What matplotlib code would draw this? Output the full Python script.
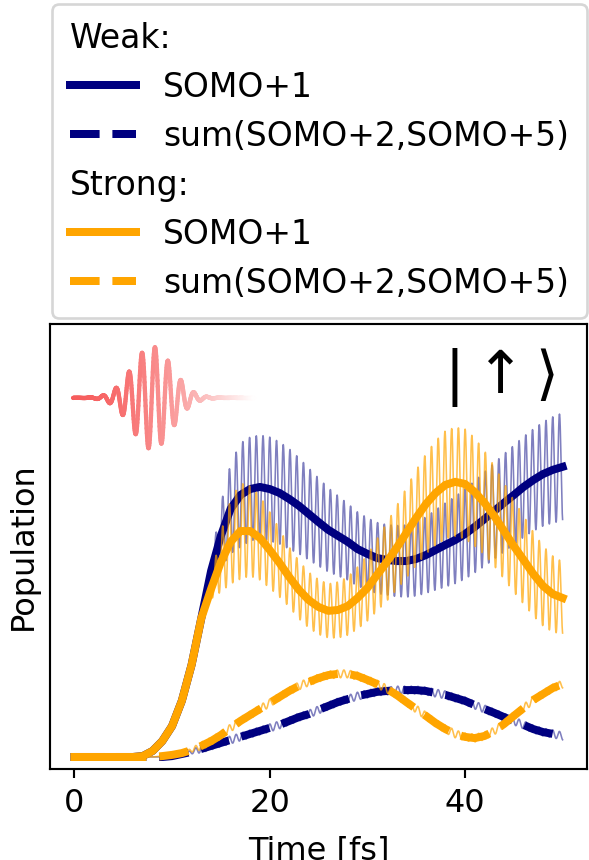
import numpy as np
import matplotlib
matplotlib.use("Agg")
import matplotlib.pyplot as plt
from matplotlib.collections import LineCollection
from matplotlib.legend_handler import HandlerBase
from matplotlib.text import Text

# ---------------------------------------------------------------- data
# sampling times of the cycle-averaged populations [fs]
time_fs = list(range(0, 51))

# cycle-averaged populations (arbitrary units)
weak_somo1 = [0, 0, 0, 0, 0, 0, 0, 0.0003, 0.0020, 0.0053, 0.0103, 0.0187,
              0.0307, 0.0463, 0.0620, 0.0737, 0.0827, 0.0873, 0.0893, 0.0900,
              0.0893, 0.0880, 0.0860, 0.0837, 0.0810, 0.0783, 0.0757, 0.0737,
              0.0717, 0.0693, 0.0677, 0.0663, 0.0657, 0.0653, 0.0653, 0.0660,
              0.0673, 0.0690, 0.0707, 0.0723, 0.0743, 0.0767, 0.0793, 0.0820,
              0.0847, 0.0873, 0.0900, 0.0923, 0.0943, 0.0957, 0.0967]
weak_sum25 = [0, 0, 0, 0, 0, 0, 0, 0, 0, 0, 0.0003, 0.0010, 0.0017, 0.0027,
              0.0037, 0.0047, 0.0057, 0.0067, 0.0077, 0.0087, 0.0097, 0.0107,
              0.0120, 0.0133, 0.0143, 0.0157, 0.0170, 0.0183, 0.0193, 0.0203,
              0.0210, 0.0217, 0.0220, 0.0223, 0.0223, 0.0223, 0.0220, 0.0213,
              0.0207, 0.0197, 0.0187, 0.0173, 0.0160, 0.0147, 0.0133, 0.0120,
              0.0107, 0.0093, 0.0083, 0.0077, 0.0070]
strong_somo1 = [0, 0, 0, 0, 0, 0, 0, 0.0003, 0.0020, 0.0053, 0.0103, 0.0187,
                0.0307, 0.0463, 0.0560, 0.0650, 0.0717, 0.0753, 0.0753, 0.0730,
                0.0690, 0.0647, 0.0600, 0.0557, 0.0523, 0.0500, 0.0487, 0.0490,
                0.0503, 0.0530, 0.0563, 0.0607, 0.0650, 0.0697, 0.0747, 0.0797,
                0.0843, 0.0880, 0.0907, 0.0917, 0.0910, 0.0883, 0.0847, 0.0803,
                0.0753, 0.0703, 0.0657, 0.0610, 0.0570, 0.0543, 0.0530]
strong_sum25 = [0, 0, 0, 0, 0, 0, 0, 0, 0, 0.0003, 0.0007, 0.0013, 0.0023,
                0.0037, 0.0053, 0.0073, 0.0097, 0.0120, 0.0140, 0.0160, 0.0180,
                0.0200, 0.0220, 0.0237, 0.0250, 0.0263, 0.0273, 0.0277, 0.0277,
                0.0270, 0.0257, 0.0243, 0.0227, 0.0207, 0.0183, 0.0160, 0.0137,
                0.0113, 0.0093, 0.0077, 0.0067, 0.0063, 0.0070, 0.0087, 0.0110,
                0.0137, 0.0163, 0.0190, 0.0210, 0.0230, 0.0243]

# amplitude of the fast field-driven oscillation around the averages
env_time = [0, 13, 14, 15, 16, 17, 19, 20, 22, 24, 26, 28, 30, 32, 34, 36,
            38, 40, 41, 42, 44, 47, 50]
weak_env = [0, 0, 0.0033, 0.0107, 0.0150, 0.0173, 0.0173, 0.0173, 0.0167,
            0.0153, 0.0140, 0.0127, 0.0120, 0.0117, 0.0120, 0.0127, 0.0140,
            0.0150, 0.0153, 0.0157, 0.0163, 0.0170, 0.0180]
strong_env = [0, 0, 0.0033, 0.0100, 0.0140, 0.0160, 0.0140, 0.0127, 0.0100,
              0.0093, 0.0090, 0.0097, 0.0110, 0.0130, 0.0150, 0.0167, 0.0180,
              0.0183, 0.0180, 0.0173, 0.0160, 0.0140, 0.0120]
sum_env_time = [0, 11, 13, 50]
sum_env = [0, 0, 0.0013, 0.0013]
osc_period_fs = 0.69

legend_labels = ["SOMO+1", "sum(SOMO+2,SOMO+5)"]
weak_color = "navy"
strong_color = "orange"

# ---------------------------------------------------------------- figure
plt.rcParams["font.family"] = ["DejaVu Sans"]
plt.rcParams["font.size"] = 12

fig = plt.figure(figsize=(589 / 192, 860 / 192), dpi=192)
ax = fig.add_axes([50 / 589, 1 - 769 / 860, 537 / 589, 445 / 860])

t_fine = np.linspace(0, 50, 6001)
carrier = np.cos(2 * np.pi * t_fine / osc_period_fs)


def raw_trace(avg, env_t, env):
    return (np.interp(t_fine, time_fs, avg)
            + np.interp(t_fine, env_t, env) * carrier)


handles = []
for color, somo1, sum25, env, thin_alpha in [
        (weak_color, weak_somo1, weak_sum25, weak_env, 0.5),
        (strong_color, strong_somo1, strong_sum25, strong_env, 0.7)]:
    ax.plot(t_fine, raw_trace(somo1, env_time, env), color=color,
            lw=0.6, alpha=thin_alpha)
    h1, = ax.plot(time_fs, somo1, color=color, lw=3)
    ax.plot(t_fine, raw_trace(sum25, sum_env_time, sum_env), color=color,
            lw=0.6, alpha=thin_alpha)
    h2, = ax.plot(time_fs, sum25, color=color, lw=3, ls="--")
    handles.append((h1, h2))

ax.set_xlim(-2.5, 52.5)
ax.set_ylim(-0.004, 0.1443)
ax.set_xticks([0, 20, 40])
ax.set_yticks([])
ax.set_xlabel("Time [fs]", labelpad=6.5)
ax.set_ylabel("Population")

# laser pulse pictogram (axes fraction coordinates), fading to the right
px = np.linspace(0.043, 0.38, 700)
py = 0.834 + 0.115 * np.exp(-(px - 0.19) ** 2 / (2 * 0.037 ** 2)) \
    * np.cos(2 * np.pi * (px - 0.1955) / 0.0242)
pts = np.column_stack([px, py])
segs = np.stack([pts[:-1], pts[1:]], axis=1)
s = (px[:-1] - px[0]) / (px[-1] - px[0])
fade = 0.85 * (1 - s ** 1.6)
base = np.array([0.96, 0.25, 0.25])
rgb = 1 - fade[:, None] * (1 - base[None, :])
ax.add_collection(LineCollection(segs, colors=rgb, linewidths=1.6,
                                 capstyle="round", transform=ax.transAxes))

ax.text(0.838, 0.879, r"$|\uparrow\rangle$", transform=ax.transAxes,
        fontsize=22, ha="center", va="center")


# legend with "Weak:" / "Strong:" sub-headers
class HeaderHandler(HandlerBase):
    def create_artists(self, legend, orig_handle, xdescent, ydescent,
                       width, height, fontsize, trans):
        return [Text(-xdescent, 0, orig_handle.get_text(), fontsize=fontsize,
                     ha="left", va="baseline", transform=trans)]


leg_handles = [Text(text="Weak:"), handles[0][0], handles[0][1],
               Text(text="Strong:"), handles[1][0], handles[1][1]]
leg_labels = ["", legend_labels[0], legend_labels[1],
              "", legend_labels[0], legend_labels[1]]
fig.legend(leg_handles, leg_labels, loc="upper left",
           bbox_to_anchor=(52 / 589, 1 - 4 / 860),
           bbox_transform=fig.transFigure, borderaxespad=0,
           fontsize=12.4, labelspacing=0.48, borderpad=0.55,
           handler_map={Text: HeaderHandler()})

fig.savefig("out.png", dpi=192)
